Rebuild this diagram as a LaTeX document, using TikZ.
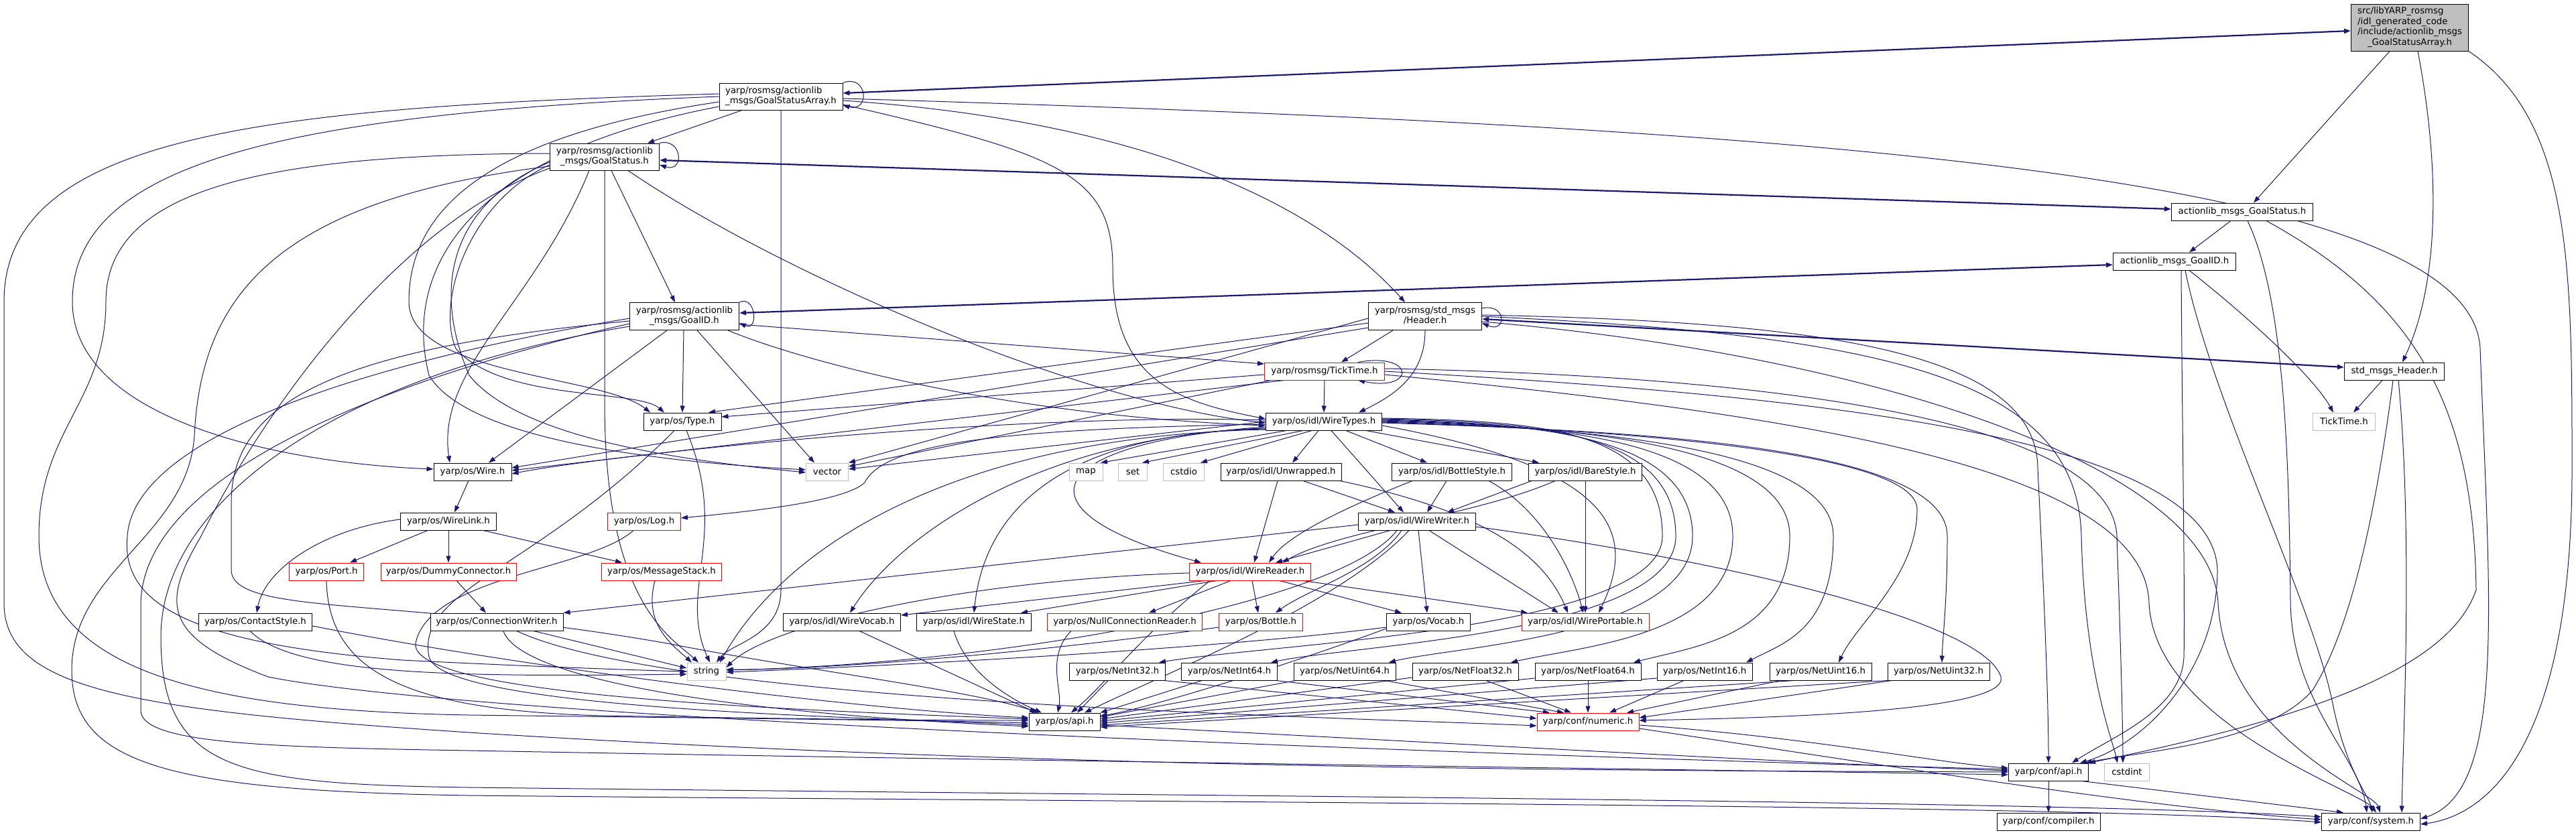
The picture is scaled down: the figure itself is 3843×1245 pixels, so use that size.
\documentclass[tikz,border=0pt]{standalone}
\usepackage{fontspec}
\setmainfont{DejaVu Sans}
\usetikzlibrary{arrows.meta}
\definecolor{edgec}{HTML}{191970}
\definecolor{rootg}{HTML}{BFBFBF}
\definecolor{plaing}{HTML}{BFBFBF}
\newcommand{\twoline}[2]{\begin{tabular}{@{}l@{}}#1\\\multicolumn{1}{@{}c@{}}{#2}\end{tabular}}
\newcommand{\fourline}[4]{\begin{tabular}{@{}l@{}}#1\\#2\\#3\\\multicolumn{1}{@{}c@{}}{#4}\end{tabular}}
\pgfdeclarelayer{bgpaper}
\pgfdeclarelayer{edges}
\pgfsetlayers{bgpaper,edges,main}
\tikzset{
 nbox/.style={draw=black, fill=white, line width=1pt, inner sep=0pt, minimum height=26pt, font=\fontsize{13.3}{15.5}\selectfont, anchor=center},
 rbox/.style={nbox, draw=red},
 pbox/.style={nbox, draw=plaing},
 e/.style={draw=edgec, line width=1pt, -{Triangle[length=10pt,width=7pt]}},
 ee/.style={draw=edgec, line width=2.2pt, {Triangle[length=10pt,width=7pt]}-{Triangle[length=10pt,width=7pt]}},
}
\begin{document}
\begin{tikzpicture}[x=1pt,y=-1pt]
\useasboundingbox (0,0) rectangle (3843,1245);
\begin{pgfonlayer}{bgpaper}
\fill[white] (0,0) rectangle (3843,1245);
\end{pgfonlayer}
% nodes
\node[nbox, fill=rootg, minimum width=175pt, minimum height=70pt] (root) at (3595,41) {\fourline{src/libYARP\_rosmsg}{/idl\_generated\_code}{/include/actionlib\_msgs}{\_GoalStatusArray.h}};
\node[nbox, minimum width=184pt, minimum height=40pt] (GSA) at (1165,144) {\twoline{yarp/rosmsg/actionlib}{\_msgs/GoalStatusArray.h}};
\node[nbox, minimum width=163pt, minimum height=40pt] (GS) at (902,234) {\twoline{yarp/rosmsg/actionlib}{\_msgs/GoalStatus.h}};
\node[nbox, minimum width=211pt] (aGS) at (3345,316) {actionlib\_msgs\_GoalStatus.h};
\node[nbox, minimum width=183pt] (aGID) at (3244,390) {actionlib\_msgs\_GoalID.h};
\node[nbox, minimum width=163pt, minimum height=41pt] (GID) at (1021,472) {\twoline{yarp/rosmsg/actionlib}{\_msgs/GoalID.h}};
\node[nbox, minimum width=169pt, minimum height=41pt] (Header) at (2126,472) {\twoline{yarp/rosmsg/std\_msgs}{/Header.h}};
\node[nbox, minimum width=149pt] (sHeader) at (3572,554) {std\_msgs\_Header.h};
\node[pbox, minimum width=93pt] (TTp) at (3497,629) {TickTime.h};
\node[rbox, minimum width=179pt] (TTr) at (1976,554) {yarp/rosmsg/TickTime.h};
\node[nbox, minimum width=116pt] (Type) at (1018,629) {yarp/os/Type.h};
\node[nbox, minimum width=173pt] (WT) at (1975,629) {yarp/os/idl/WireTypes.h};
\node[nbox, minimum width=116pt] (Wire) at (705,704) {yarp/os/Wire.h};
\node[pbox, minimum width=63pt] (vector) at (1234,704) {vector};
\node[pbox, minimum width=50pt] (map) at (1620,704) {map};
\node[pbox, minimum width=43pt] (set) at (1690,704) {set};
\node[pbox, minimum width=61pt] (cstdio) at (1766,704) {cstdio};
\node[nbox, minimum width=180pt] (Unw) at (1911,704) {yarp/os/idl/Unwrapped.h};
\node[nbox, minimum width=179pt] (BotS) at (2166,704) {yarp/os/idl/BottleStyle.h};
\node[nbox, minimum width=169pt] (BareS) at (2365,704) {yarp/os/idl/BareStyle.h};
\node[nbox, minimum width=143pt] (WLink) at (669,778) {yarp/os/WireLink.h};
\node[rbox, minimum width=109pt] (Log) at (961,778) {yarp/os/Log.h};
\node[nbox, minimum width=175pt] (WW) at (2114,778) {yarp/os/idl/WireWriter.h};
\node[rbox, minimum width=111pt] (Port) at (487,853) {yarp/os/Port.h};
\node[rbox, minimum width=202pt] (Dummy) at (669,853) {yarp/os/DummyConnector.h};
\node[rbox, minimum width=179pt] (MStack) at (987,853) {yarp/os/MessageStack.h};
\node[rbox, minimum width=181pt] (WR) at (1865,853) {yarp/os/idl/WireReader.h};
\node[nbox, minimum width=169pt] (CStyle) at (381,928) {yarp/os/ContactStyle.h};
\node[nbox, minimum width=198pt] (CW) at (741,928) {yarp/os/ConnectionWriter.h};
\node[nbox, minimum width=175pt] (WVoc) at (1256,928) {yarp/os/idl/WireVocab.h};
\node[nbox, minimum width=171pt] (WSt) at (1453,928) {yarp/os/idl/WireState.h};
\node[rbox, minimum width=231pt] (NCR) at (1678,928) {yarp/os/NullConnectionReader.h};
\node[rbox, minimum width=125pt] (Bottle) at (1881,928) {yarp/os/Bottle.h};
\node[nbox, minimum width=125pt] (Vocab) at (2131,928) {yarp/os/Vocab.h};
\node[rbox, minimum width=190pt] (WP) at (2365,928) {yarp/os/idl/WirePortable.h};
\node[pbox, minimum width=58pt] (string) at (1054,1002) {string};
\node[nbox, minimum width=143pt] (NI32) at (1667,1002) {yarp/os/NetInt32.h};
\node[nbox, minimum width=143pt] (NI64) at (1834,1002) {yarp/os/NetInt64.h};
\node[nbox, minimum width=152pt] (NU64) at (2006,1002) {yarp/os/NetUint64.h};
\node[nbox, minimum width=158pt] (NF32) at (2186,1002) {yarp/os/NetFloat32.h};
\node[nbox, minimum width=158pt] (NF64) at (2369,1002) {yarp/os/NetFloat64.h};
\node[nbox, minimum width=142pt] (NI16) at (2543,1002) {yarp/os/NetInt16.h};
\node[nbox, minimum width=152pt] (NU16) at (2716,1002) {yarp/os/NetUint16.h};
\node[nbox, minimum width=152pt] (NU32) at (2892,1002) {yarp/os/NetUint32.h};
\node[nbox, minimum width=106pt] (osapi) at (1588,1077) {yarp/os/api.h};
\node[rbox, minimum width=152pt] (numeric) at (2369,1077) {yarp/conf/numeric.h};
\node[nbox, minimum width=119pt] (confapi) at (3056,1152) {yarp/conf/api.h};
\node[pbox, minimum width=67pt] (cstdint) at (3173,1152) {cstdint};
\node[nbox, minimum width=154pt] (compiler) at (3056,1226) {yarp/conf/compiler.h};
\node[nbox, minimum width=147pt] (system) at (3537,1226) {yarp/conf/system.h};

\begin{pgfonlayer}{edges}
% root / GSA
\draw[ee] ([yshift=5pt]GSA.east) -- ([yshift=-5pt]root.west);
\draw[e] (GSA.north east) .. controls (1295,110) and (1298,168) .. ([yshift=-13pt]GSA.east);
\draw[e] ([xshift=-58pt]GSA.south) -- ([xshift=64pt]GS.north);
\draw[e] ([xshift=-30pt]root.south) -- ([xshift=17pt]aGS.north);
\draw[e] ([xshift=12pt]root.south) .. controls (3640,250) and (3640,420) .. ([xshift=12pt]sHeader.north);
\draw[e] (root.south east) .. controls (3837,180) and (3837,400) .. (3837,700) .. controls (3837,1100) and (3720,1215) .. ([yshift=-4pt]system.east);
\draw[e] ([yshift=-3pt]GSA.east) .. controls (2700,190) and (3686,260) .. (3700,520) .. controls (3714,900) and (3740,1180) .. ([yshift=4pt]system.east);
\draw[e] ([yshift=-6pt]GSA.east) .. controls (1700,180) and (1960,300) .. ([xshift=-30pt]Header.north);
\draw[e] ([yshift=-12pt]GSA.east) .. controls (1580,230) and (1660,260) .. (1660,400) .. controls (1660,570) and (1760,600) .. ([yshift=4pt]WT.west);
\draw[e] (GSA.south) -- (1165,880) .. controls (1165,950) and (1090,960) .. ([xshift=15pt]string.north);
\draw[e] ([yshift=-15pt]GSA.west) .. controls (700,230) and (600,400) .. (640,560) .. controls (700,660) and (1000,690) .. ([yshift=3pt]vector.west);
\draw[e] (GSA.west) .. controls (400,170) and (108,250) .. (108,450) .. controls (108,620) and (400,690) .. ([yshift=4pt]Wire.west);
\draw[e] ([yshift=4pt]GSA.west) .. controls (400,160) and (6,200) .. (6,450) -- (6,900) .. controls (6,1030) and (200,1060) .. (700,1093) .. controls (1600,1150) and (2500,1150) .. (confapi.west);
\draw[e] ([yshift=-8pt]GSA.west) .. controls (750,200) and (610,300) .. (610,450) .. controls (610,560) and (900,560) .. ([xshift=-48pt]Type.north);
% GS
\draw[ee] ([yshift=-5pt]GS.east) -- ([yshift=4pt]aGS.west);
\draw[e] (GS.north east) .. controls (1018,205) and (1022,258) .. ([yshift=-12pt]GS.east);
\draw[e] ([xshift=10pt]GS.south) -- ([xshift=-14pt]GID.north);
\draw[e] ([yshift=-12pt]GS.west) .. controls (700,300) and (650,450) .. (680,520) .. controls (750,600) and (950,580) .. ([xshift=-27pt]Type.north);
\draw[e] ([yshift=-8pt]GS.west) .. controls (680,300) and (640,420) .. (700,560) .. controls (780,660) and (1050,690) .. ([yshift=-1pt]vector.west);
\draw[e] (GS.south) -- (902,600) .. controls (902,900) and (1000,950) .. ([xshift=-12pt]string.north);
\draw[e] ([xshift=35pt]GS.south) .. controls (1150,400) and (1600,600) .. ([yshift=-2pt]WT.west);
\draw[e] ([xshift=-23pt]GS.south) .. controls (800,450) and (650,550) .. ([xshift=-34pt]Wire.north);
\draw[e] ([yshift=5pt]GS.west) .. controls (400,230) and (158,280) .. (158,450) .. controls (158,600) and (58,640) .. (58,800) .. controls (58,1000) and (300,1060) .. (700,1067) .. controls (1100,1072) and (1400,1075) .. ([yshift=-2pt]osapi.west);
\draw[e] ([yshift=-14pt]GS.west) .. controls (400,300) and (300,450) .. (290,650) .. controls (280,800) and (107,850) .. (107,1000) .. controls (107,1140) and (250,1180) .. (700,1187) .. controls (1800,1198) and (3100,1200) .. ([yshift=-1pt]system.west);
\draw[e] ([yshift=-17pt]GS.west) .. controls (600,330) and (400,600) .. (300,800) .. controls (241,900) and (241,950) .. (400,1010) .. controls (700,1070) and (2000,1120) .. ([yshift=4pt]confapi.west);
% GID
\draw[ee] ([yshift=5pt]GID.east) -- ([yshift=-5pt]aGID.west);
\draw[e] (GID.north east) .. controls (1128,440) and (1132,495) .. ([yshift=-10pt]GID.east);
\draw[e] ([yshift=-12pt]GID.east) -- ([yshift=11pt]TTr.west);
\draw[e] ([xshift=-1pt]GID.south) -- (Type.north);
\draw[e] ([xshift=-26pt]GID.south) -- ([xshift=24pt]Wire.north);
\draw[e] ([xshift=19pt]GID.south) -- ([xshift=-19pt]vector.north);
\draw[e] ([xshift=65pt]GID.south) .. controls (1200,540) and (1500,620) .. ([yshift=-6pt]WT.west);
\draw[e] ([yshift=-3pt]GID.west) .. controls (550,540) and (200,650) .. (190,800) .. controls (180,900) and (280,960) .. (600,985) .. controls (800,995) and (950,1000) .. (string.west);
\draw[e] ([yshift=-7pt]GID.west) .. controls (500,520) and (345,600) .. (345,750) -- (345,850) .. controls (345,920) and (600,890) .. (995,960) .. controls (1200,1000) and (1450,1030) .. ([xshift=-38pt]osapi.north);
\draw[e] ([yshift=-11pt]GID.west) .. controls (600,560) and (215,700) .. (210,900) -- (210,1060) .. controls (210,1110) and (400,1115) .. (700,1120) .. controls (1500,1135) and (2500,1148) .. ([yshift=-4pt]confapi.west);
\draw[e] ([yshift=-15pt]GID.west) .. controls (500,560) and (240,750) .. (240,950) .. controls (240,1150) and (350,1170) .. (700,1175) .. controls (1800,1188) and (3100,1195) .. ([yshift=7pt]system.west);
% aGS / aGID / sHeader
\draw[e] ([xshift=-17pt]aGS.south) -- ([xshift=22pt]aGID.north);
\draw[e] ([xshift=8pt]aGS.south) .. controls (3410,450) and (3415,700) .. (3417,900) .. controls (3420,1050) and (3520,1130) .. ([xshift=-6pt]system.north);
\draw[e] ([xshift=36pt]aGS.south) .. controls (3600,450) and (3690,600) .. (3694,880) .. controls (3650,1010) and (3400,1080) .. (confapi.north east);
\draw[e] ([xshift=22pt]aGID.south) .. controls (3350,470) and (3450,560) .. ([xshift=-16pt]TTp.north);
\draw[e] ([xshift=10pt]aGID.south) .. controls (3255,600) and (3260,900) .. (3258,980) .. controls (3255,1060) and (3150,1100) .. ([xshift=35pt]confapi.north);
\draw[e] ([xshift=16pt]aGID.south) .. controls (3300,600) and (3450,900) .. (3480,1050) .. controls (3500,1150) and (3535,1190) .. ([xshift=2pt]system.north);
\draw[ee] ([yshift=-4pt]Header.east) -- ([yshift=6pt]sHeader.west);
\draw[e] ([xshift=-18pt]sHeader.south) -- ([xshift=14pt]TTp.north);
\draw[e] ([xshift=-2pt]sHeader.south) .. controls (3540,800) and (3500,950) .. (3450,1030) .. controls (3380,1110) and (3200,1120) .. ([xshift=55pt]confapi.north);
\draw[e] ([xshift=6pt]sHeader.south) .. controls (3600,800) and (3585,1100) .. ([xshift=46pt]system.north);
% Header
\draw[e] ([yshift=12pt]Header.east) .. controls (2248,452) and (2248,498) .. ([yshift=-10pt]Header.east);
\draw[e] ([xshift=-48pt]Header.south) -- ([xshift=25pt]TTr.north);
\draw[e] (Header.south) .. controls (2126,560) and (2080,590) .. ([xshift=52pt]WT.north);
\draw[e] ([yshift=-10pt]Header.west) -- ([xshift=39pt]Type.north);
\draw[e] ([yshift=-17pt]Header.west) -- ([yshift=6pt]Wire.east);
\draw[e] ([yshift=-3pt]Header.west) -- (vector.north east);
\draw[e] ([yshift=2pt]Header.east) .. controls (2700,480) and (3040,520) .. (3040,700) .. controls (3050,900) and (3056,1050) .. (confapi.north);
\draw[e] (Header.east) .. controls (2800,500) and (3100,560) .. (3105,800) .. controls (3110,1000) and (3150,1100) .. ([xshift=-14pt]cstdint.north);
\draw[e] ([yshift=-8pt]Header.east) .. controls (2800,530) and (3300,700) .. (3309,900) .. controls (3320,1100) and (3540,1180) .. ([xshift=14pt]system.north);
% TickTime
\draw[e] ([xshift=50pt]TTr.north) .. controls (2112,525) and (2112,585) .. ([xshift=50pt]TTr.south);
\draw[e] (TTr.south) -- (WT.north);
\draw[e] ([yshift=-5pt]TTr.west) -- ([yshift=7pt]Type.east);
\draw[e] ([xshift=-60pt]TTr.south) -- ([yshift=2pt]Wire.east);
\draw[e] ([xshift=-80pt]TTr.south) -- ([yshift=8pt]vector.east);
\draw[e] ([yshift=4pt]TTr.east) .. controls (2600,560) and (3150,620) .. (3158,800) .. controls (3165,1000) and (3167,1100) .. ([xshift=-6pt]cstdint.north);
\draw[e] (TTr.east) .. controls (2700,590) and (3300,650) .. (3308,850) .. controls (3308,1000) and (3200,1110) .. ([xshift=47pt]confapi.north);
\draw[e] ([yshift=-5pt]TTr.east) .. controls (2700,620) and (3200,700) .. (3206,900) .. controls (3215,1080) and (3520,1180) .. ([xshift=8pt]system.north);
% WireTypes
\draw[e] ([xshift=-56pt]WT.south) -- ([xshift=22pt]map.north);
\draw[e] ([xshift=-31pt]WT.south) -- ([xshift=14pt]set.north);
\draw[e] ([xshift=-18pt]WT.south) -- ([xshift=25pt]cstdio.north);
\draw[e] ([xshift=-8pt]WT.south) -- ([xshift=17pt]Unw.north);
\draw[e] ([xshift=11pt]WT.south) -- ([xshift=-20pt]WW.north);
\draw[e] ([xshift=33pt]WT.south) -- ([xshift=-37pt]BotS.north);
\draw[e] ([xshift=63pt]WT.south) -- ([xshift=-69pt]BareS.north);
\draw[e] ([yshift=-8pt]WT.west) .. controls (1560,660) and (1500,760) .. ([xshift=-73pt]WR.north);
\draw[e] ([yshift=-6pt]WT.east) .. controls (2420,700) and (2440,800) .. ([xshift=20pt]WP.north);
\draw[e] ([yshift=2pt]WT.west) .. controls (1500,615) and (900,680) .. ([yshift=-3pt]Wire.east);
\draw[e] (WT.west) -- ([yshift=4pt]vector.east);
\draw[e] ([yshift=-4pt]WT.west) .. controls (1500,640) and (1320,660) .. (1290,720) .. controls (1260,750) and (1100,765) .. ([yshift=5pt]Log.east);
\draw[e] ([yshift=-10pt]WT.west) .. controls (1550,650) and (1340,800) .. ([xshift=12pt]WVoc.north);
\draw[e] ([yshift=-11pt]WT.west) .. controls (1600,645) and (1470,750) .. (WSt.north);
\draw[e] ([yshift=-12pt]WT.west) .. controls (1450,650) and (1180,800) .. ([xshift=20pt]string.north);
\draw[e] ([yshift=5pt]WT.east) .. controls (2300,628) and (2480,640) .. (2480,800) .. controls (2480,940) and (1900,960) .. ([xshift=62pt]NI32.north);
\draw[e] ([yshift=4pt]WT.east) .. controls (2300,630) and (2500,645) .. (2500,800) .. controls (2500,945) and (2020,962) .. ([xshift=62pt]NI64.north);
\draw[e] ([yshift=3pt]WT.east) .. controls (2300,632) and (2525,650) .. (2525,800) .. controls (2525,950) and (2170,964) .. ([xshift=66pt]NU64.north);
\draw[e] ([yshift=2pt]WT.east) .. controls (2320,634) and (2585,655) .. (2585,800) .. controls (2585,950) and (2360,964) .. ([xshift=68pt]NF32.north);
\draw[e] ([yshift=1pt]WT.east) .. controls (2340,636) and (2670,660) .. (2670,800) .. controls (2670,950) and (2530,964) .. ([xshift=68pt]NF64.north);
\draw[e] (WT.east) .. controls (2360,638) and (2735,665) .. (2735,800) .. controls (2735,940) and (2660,960) .. ([xshift=62pt]NI16.north);
\draw[e] ([yshift=-1pt]WT.east) .. controls (2380,640) and (2860,670) .. (2860,760) .. controls (2860,860) and (2770,930) .. ([xshift=27pt]NU16.north);
\draw[e] ([yshift=-2pt]WT.east) .. controls (2400,642) and (2905,660) .. (2905,800) .. controls (2905,900) and (2898,950) .. ([xshift=5pt]NU32.north);
% styles
\draw[e] ([xshift=33pt]Unw.south) -- ([xshift=-33pt]WW.north);
\draw[e] ([xshift=-5pt]Unw.south) -- ([xshift=6pt]WR.north);
\draw[e] ([xshift=88pt]Unw.south) .. controls (2200,760) and (2300,820) .. ([xshift=-26pt]WP.north);
\draw[e] ([xshift=-8pt]BotS.south) -- ([xshift=15pt]WW.north);
\draw[e] ([xshift=-59pt]BotS.south) .. controls (2000,760) and (1920,800) .. ([xshift=28pt]WR.north);
\draw[e] ([xshift=55pt]BotS.south) .. controls (2300,760) and (2345,850) .. ([xshift=-3pt]WP.north);
\draw[e] ([xshift=-80pt]BareS.south) -- ([xshift=45pt]WW.north);
\draw[e] ([xshift=-45pt]BareS.south) .. controls (2200,770) and (2000,790) .. ([xshift=48pt]WR.north);
\draw[e] (BareS.south) -- (WP.north);
% WireWriter
\draw[e] ([xshift=-40pt]WW.south) -- ([xshift=38pt]WR.north);
\draw[e] ([xshift=-23pt]WW.south) .. controls (2050,850) and (1950,880) .. ([xshift=22pt]Bottle.north);
\draw[e] ([xshift=2pt]WW.south) -- ([xshift=-2pt]Vocab.north);
\draw[e] ([xshift=18pt]WW.south) -- ([xshift=-40pt]WP.north);
\draw[e] ([yshift=-5pt]WW.west) -- (CW.north east);
\draw[e] ([xshift=-30pt]WW.south) .. controls (2000,900) and (1500,990) .. ([yshift=2pt]string.east);
\draw[e] ([yshift=-8pt]WW.east) .. controls (2600,840) and (2960,930) .. (2985,1010) .. controls (3000,1065) and (2600,1072) .. ([yshift=2pt]numeric.east);
\draw[e] ([xshift=-12pt]WW.south) .. controls (2000,900) and (1750,1000) .. ([xshift=30pt]osapi.north);
% WireReader
\draw[e] ([xshift=-68pt]WR.south) -- ([yshift=10pt]WVoc.east);
\draw[e] ([xshift=-50pt]WR.south) -- ([xshift=70pt]WSt.north);
\draw[e] ([xshift=-29pt]WR.south) -- ([xshift=36pt]NCR.north);
\draw[e] ([xshift=3pt]WR.south) -- ([xshift=-4pt]Bottle.north);
\draw[e] ([xshift=44pt]WR.south) -- ([xshift=-40pt]Vocab.north);
\draw[e] ([xshift=79pt]WR.south) -- ([xshift=-86pt]WP.north);
\draw[e] ([yshift=-2pt]WR.west) .. controls (1450,865) and (1150,930) .. ([yshift=6pt]string.east);
\draw[e] ([xshift=-60pt]WR.south) .. controls (1700,950) and (1650,1020) .. ([xshift=10pt]osapi.north);
% Wire / link cluster
\draw[e] ([xshift=-6pt]Wire.south) -- ([xshift=9pt]WLink.north);
\draw[e] ([xshift=-31pt]WLink.south) -- ([xshift=35pt]Port.north);
\draw[e] (WLink.south) -- (Dummy.north);
\draw[e] ([xshift=52pt]WLink.south) -- ([xshift=-59pt]MStack.north);
\draw[e] ([yshift=3pt]WLink.west) .. controls (480,790) and (395,850) .. ([xshift=2pt]CStyle.north);
\draw[e] ([xshift=12pt]Dummy.south) -- ([xshift=-16pt]CW.north);
\draw[e] (Port.south) .. controls (490,1000) and (600,1060) .. (900,1068) .. controls (1200,1073) and (1400,1075) .. ([yshift=2pt]osapi.west);
\draw[e] ([xshift=-10pt]MStack.south) .. controls (960,930) and (1000,960) .. ([xshift=-22pt]string.north);
\draw[e] ([xshift=-16pt]Log.south) .. controls (880,850) and (640,860) .. (620,960) .. controls (610,1040) and (1200,1060) .. ([yshift=4pt]osapi.west);
\draw[e] ([xshift=-12pt]Type.south) .. controls (800,850) and (620,880) .. (640,980) .. controls (660,1060) and (1300,1070) .. ([yshift=-5pt]osapi.west);
\draw[e] ([xshift=6pt]Type.south) .. controls (1090,800) and (1010,880) .. ([xshift=5pt]string.north);
\draw[e] ([yshift=-6pt]CStyle.east) .. controls (800,1000) and (1300,1060) .. ([yshift=6pt]osapi.west);
\draw[e] ([xshift=-8pt]CStyle.south) .. controls (440,1010) and (700,1010) .. ([yshift=-4pt]string.west);
\draw[e] ([xshift=55pt]CW.south) -- ([yshift=5pt]string.west);
\draw[e] ([xshift=10pt]CW.south) .. controls (770,1000) and (1000,1060) .. ([yshift=-7pt]osapi.west);
\draw[e] ([xshift=30pt]CW.south) .. controls (1000,1050) and (2000,1070) .. ([yshift=-6pt]numeric.west);
\draw[e] ([xshift=26pt]WVoc.south) -- ([xshift=-42pt]osapi.north);
\draw[e] ([xshift=-30pt]WSt.south) .. controls (1440,1000) and (1500,1040) .. ([xshift=-34pt]osapi.north);
\draw[e] ([xshift=-80pt]NCR.south) .. controls (1560,980) and (1585,1030) .. ([xshift=-10pt]osapi.north);
\draw[e] ([yshift=-8pt]Bottle.west) .. controls (1500,980) and (1200,1000) .. ([yshift=3pt]string.east);
\draw[e] ([yshift=-8pt]Vocab.west) .. controls (1800,970) and (1300,995) .. ([yshift=-1pt]string.east);
\draw[e] ([yshift=-10pt]Vocab.west) .. controls (1900,1000) and (1700,1060) .. ([yshift=9pt]osapi.east);
% Net types
\draw[e] ([xshift=-14pt]NI32.south) -- ([xshift=19pt]osapi.north);
\draw[e] ([xshift=70pt]NI32.south) -- ([yshift=5pt]numeric.west);
\draw[e] ([xshift=-41pt]NI64.south) -- (osapi.north east);
\draw[e] ([xshift=70pt]NI64.south) -- ([xshift=-57pt]numeric.north);
\draw[e] ([xshift=-73pt]NU64.south) -- ([yshift=7pt]osapi.east);
\draw[e] ([xshift=60pt]NU64.south) -- ([xshift=-36pt]numeric.north);
\draw[e] ([yshift=-9pt]NF32.west) -- ([yshift=4pt]osapi.east);
\draw[e] ([xshift=31pt]NF32.south) -- ([xshift=-25pt]numeric.north);
\draw[e] (NF64.south) -- (numeric.north);
\draw[e] ([yshift=-10pt]NF64.west) -- ([yshift=1pt]osapi.east);
\draw[e] ([xshift=-31pt]NI16.south) -- ([xshift=32pt]numeric.north);
\draw[e] ([yshift=-10pt]NI16.west) -- ([yshift=-2pt]osapi.east);
\draw[e] ([xshift=-60pt]NU16.south) -- ([xshift=58pt]numeric.north);
\draw[e] ([xshift=-40pt]NU16.south) -- ([yshift=-5pt]osapi.east);
\draw[e] ([xshift=-70pt]NU32.south) -- ([yshift=6pt]numeric.east);
\draw[e] ([xshift=-76pt]NU32.south) -- ([yshift=-8pt]osapi.east);
% bottom
\draw[e] ([yshift=-5pt]osapi.east) .. controls (2000,1100) and (2700,1140) .. ([yshift=2pt]confapi.west);
\draw[e] ([yshift=-5pt]numeric.east) .. controls (2700,1100) and (2900,1140) .. ([yshift=6pt]confapi.west);
\draw[e] ([yshift=-10pt]numeric.east) .. controls (2800,1140) and (3200,1205) .. ([yshift=3pt]system.west);
\draw[e] (confapi.south) -- (compiler.north);
\draw[e] ([xshift=50pt]confapi.south) -- ([xshift=-41pt]system.north);
\end{pgfonlayer}
\end{tikzpicture}
\end{document}
